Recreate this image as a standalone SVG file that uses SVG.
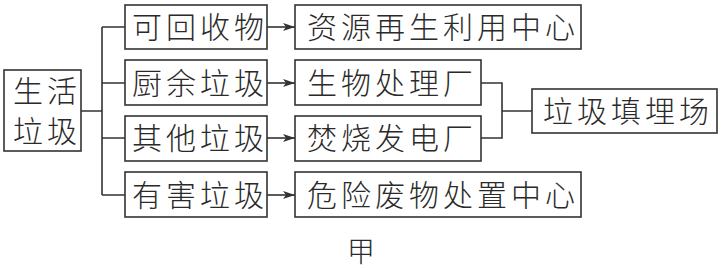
<svg xmlns="http://www.w3.org/2000/svg" width="721" height="270" viewBox="0 0 721 270">
<defs>
<style>
.box{fill:#fff;stroke:#333;stroke-width:1.6}
.t{font-family:"Noto Sans CJK SC","Noto Sans CJK JP",sans-serif;font-size:30px;font-weight:300;fill:#2a2a2a;letter-spacing:4px}
.ln{fill:none;stroke:#333;stroke-width:1.6}
</style>
<marker id="ah" viewBox="0 0 12 10" refX="12" refY="5" markerWidth="12" markerHeight="10" markerUnits="userSpaceOnUse" orient="auto">
<path d="M0,1 L12,5 L0,9 L3,5 Z" fill="#333"/>
</marker>
</defs>
<rect width="721" height="270" fill="#fff"/>
<g id="connectors">
<path class="ln" d="M81,111 H102 M102,27 V195 M102,27 H125 M102,83 H125 M102,138 H125 M102,195 H125"/>
<path class="ln" d="M267,27 H295" marker-end="url(#ah)"/>
<path class="ln" d="M267,83 H295" marker-end="url(#ah)"/>
<path class="ln" d="M267,138 H295" marker-end="url(#ah)"/>
<path class="ln" d="M267,195 H295" marker-end="url(#ah)"/>
<path class="ln" d="M481,83 H502 V138 H481 M502,111 H532"/>
</g>
<g id="n-shenghuo">
<rect class="box" x="4" y="70" width="77" height="81"/>
<text class="t" x="13" y="102">生活</text>
<text class="t" x="13" y="142">垃圾</text>
</g>
<g id="n-kehuishou">
<rect class="box" x="125" y="5" width="142" height="44"/>
<text class="t" x="132" y="38">可回收物</text>
</g>
<g id="n-chuyu">
<rect class="box" x="125" y="60" width="142" height="45"/>
<text class="t" x="132" y="94">厨余垃圾</text>
</g>
<g id="n-qita">
<rect class="box" x="125" y="116" width="142" height="45"/>
<text class="t" x="132" y="149">其他垃圾</text>
</g>
<g id="n-youhai">
<rect class="box" x="125" y="172" width="142" height="45"/>
<text class="t" x="132" y="206">有害垃圾</text>
</g>
<g id="n-ziyuan">
<rect class="box" x="295" y="5" width="286" height="44"/>
<text class="t" x="307" y="38">资源再生利用中心</text>
</g>
<g id="n-shengwu">
<rect class="box" x="295" y="60" width="186" height="45"/>
<text class="t" x="307" y="94">生物处理厂</text>
</g>
<g id="n-fenshao">
<rect class="box" x="295" y="116" width="186" height="45"/>
<text class="t" x="307" y="149">焚烧发电厂</text>
</g>
<g id="n-weixian">
<rect class="box" x="295" y="172" width="286" height="45"/>
<text class="t" x="307" y="206">危险废物处置中心</text>
</g>
<g id="n-tianmai">
<rect class="box" x="532" y="89" width="185" height="44"/>
<text class="t" x="543" y="122">垃圾填埋场</text>
</g>
<text class="t" x="347" y="262" style="letter-spacing:0;font-size:28px">甲</text>
</svg>
